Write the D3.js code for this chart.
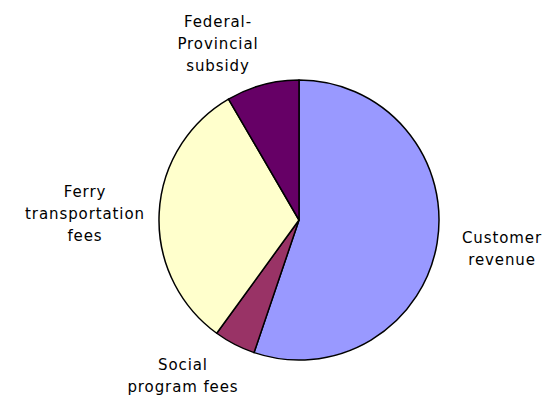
<!DOCTYPE html>
<html>
<head>
<meta charset="utf-8">
<script src="https://cdn.jsdelivr.net/npm/d3@7"></script>
<style>
  body { margin: 0; background: #fff; }
  text { font-family: "DejaVu Sans", Verdana, sans-serif; font-size: 15px; letter-spacing: 0.9px; fill: #000; }
</style>
</head>
<body>
<svg id="chart" width="552" height="396"></svg>
<script>
// revenue sources (percent)
var categories = ["Customer revenue", "Social program fees", "Ferry transportation fees", "Federal-Provincial subsidy"];
var values = [55.2, 4.8, 31.6, 8.4];
var colors = ["#9999FF", "#993366", "#FFFFCC", "#660066"];
// label lines and anchor points for each slice
var labelLines = [["Customer", "revenue"], ["Social", "program fees"], ["Ferry", "transportation", "fees"], ["Federal-", "Provincial", "subsidy"]];
var labelPos = [[502, 243], [183, 370], [85, 197], [218, 27]];

var svg = d3.select("#chart");
var cx = 299, cy = 220, radius = 140;

var data = categories.map(function(c, i) { return {label: c, value: values[i]}; });

var pie = d3.pie()
    .sort(null)
    .value(function(d) { return d.value; });

var arc = d3.arc()
    .innerRadius(0)
    .outerRadius(radius);

var color = d3.scaleOrdinal().domain(categories).range(colors);

var g = svg.append("g")
    .attr("transform", "translate(" + cx + "," + cy + ")");

g.selectAll("path")
    .data(pie(data))
    .enter()
    .append("path")
    .attr("d", arc)
    .attr("fill", function(d) { return color(d.data.label); })
    .attr("stroke", "#000")
    .attr("stroke-width", 1.5)
    .attr("stroke-linejoin", "round");

// labels
var labels = svg.selectAll(".label")
    .data(data)
    .enter().append("text")
    .attr("class", "label")
    .attr("text-anchor", "middle")
    .attr("x", function(d, i) { return labelPos[i][0]; })
    .attr("y", function(d, i) { return labelPos[i][1]; });

labels.each(function(d, i) {
    var t = d3.select(this);
    labelLines[i].forEach(function(line, k) {
        t.append("tspan")
            .attr("x", labelPos[i][0])
            .attr("dy", k == 0 ? 0 : 22)
            .text(line);
    });
});
</script>
</body>
</html>
